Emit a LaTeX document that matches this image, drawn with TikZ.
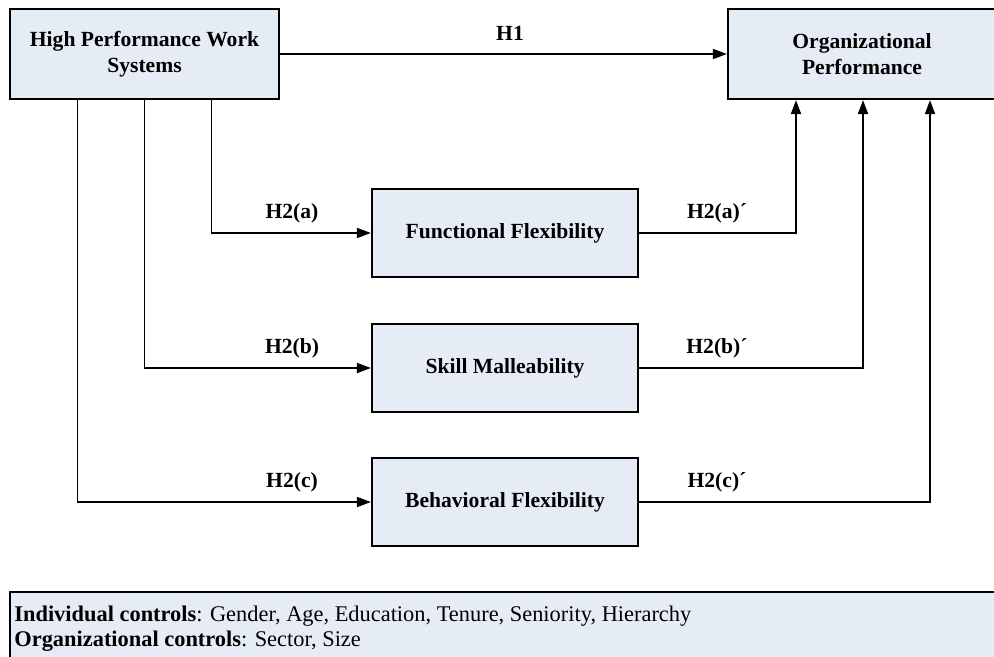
\documentclass[tikz,border=0pt]{standalone}
\usepackage{fontspec}
\setmainfont{Liberation Serif}
\usetikzlibrary{arrows.meta}
\definecolor{boxfill}{RGB}{230,236,246}

\begin{document}
\begin{tikzpicture}[x=0.5pt, y=-0.5pt,
  box/.style={draw, line width=1.1pt, fill=boxfill, minimum width=133pt, minimum height=44pt, align=center, font=\fontsize{10.8}{13}\selectfont\bfseries},
  lbl/.style={font=\fontsize{10.8}{13}\selectfont\bfseries},
  arr/.style={line width=0.9pt, -{Triangle[length=7pt,width=5pt]}}]
\clip (0,0) rectangle (994,657);
\useasboundingbox (0,0) rectangle (994,657);
\node[box, minimum width=134.5pt, minimum height=45pt] (hpws) at (144.5,54) {High Performance Work\\Systems};
\node[box, minimum width=134pt, minimum height=45pt] (org) at (862,54) {Organizational\\Performance};
\node[box] (ff) at (505,233) {Functional Flexibility};
\node[box] (sm) at (505,368) {Skill Malleability};
\node[box] (bf) at (505,502) {Behavioral Flexibility};
% controls box, open at the right and bottom
\fill[boxfill] (10,592) rectangle (1000,700);
\draw[line width=1.1pt] (10,700) -- (10,592) -- (1000,592);
\node[anchor=north west, inner sep=0pt, align=left, font=\fontsize{11.2}{12.5}\selectfont] (ctrl) at (14,606)
  {\textbf{Individual controls}: Gender, Age, Education, Tenure, Seniority, Hierarchy\\
   \textbf{Organizational controls}: Sector, Size};
\draw[arr] (hpws.east) -- (org.west);
\draw[arr] ([xshift=33.5pt]hpws.south) |- (ff.west);
\draw[arr] (hpws.south) |- (sm.west);
\draw[arr] ([xshift=-33.5pt]hpws.south) |- (bf.west);
\draw[arr] (ff.east) -| ([xshift=-33pt]org.south);
\draw[arr] (sm.east) -| ([xshift=0.5pt]org.south);
\draw[arr] (bf.east) -| ([xshift=34pt]org.south);
\node[lbl] (lh1) at (510,33) {H1};
\node[lbl] (lh2a) at (292,213) {H2(a)};
\node[lbl] (lh2b) at (292,348) {H2(b)};
\node[lbl] (lh2c) at (292,482) {H2(c)};
\node[lbl] (lh2ap) at (717,213) {H2(a)´};
\node[lbl] (lh2bp) at (717,348) {H2(b)´};
\node[lbl] (lh2cp) at (717,482) {H2(c)´};
\end{tikzpicture}
\end{document}
